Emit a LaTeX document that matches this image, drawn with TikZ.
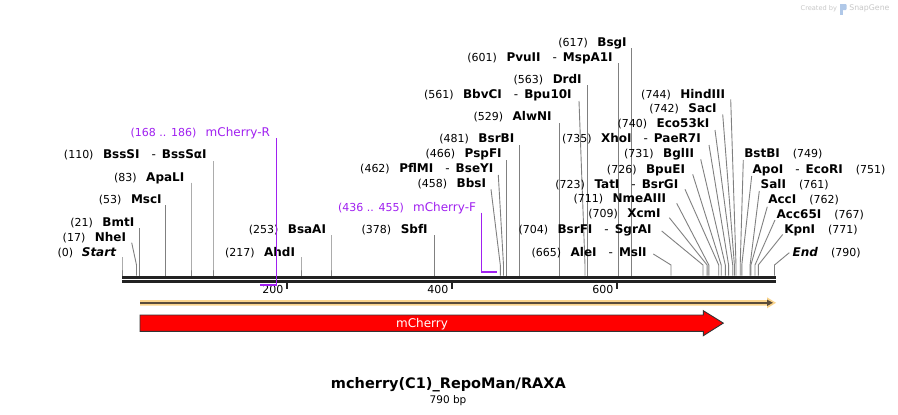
\documentclass[tikz,border=0pt]{standalone}
\usepackage{fontspec}
\setmainfont{DejaVu Sans}
\usetikzlibrary{arrows.meta}
\definecolor{linegray}{RGB}{128,128,128}
\definecolor{primer}{RGB}{160,32,240}
\definecolor{featorange}{RGB}{250,212,140}
\definecolor{featdark}{RGB}{90,76,58}
\definecolor{backbone}{RGB}{34,34,34}
\definecolor{arrowedge}{RGB}{51,51,51}
\definecolor{wmgray}{RGB}{200,200,200}
\definecolor{wmblue}{RGB}{176,200,232}
\newcommand\eN[1]{{\fontsize{11}{13}\selectfont(#1)}}
\newcommand\eE[1]{{\fontsize{12}{14}\selectfont\bfseries #1}}
\newcommand\eD{\hspace{12pt}{\fontsize{12}{14}\selectfont-}\hspace{6pt}}
\newcommand\SiteLabel[8]{%
  \node[lbl,anchor=#2] (#1) at (#3,#4) {#5};
  \coordinate (#1a) at (#6,#7);
  \coordinate (#1b) at (#8,265);
  \coordinate (#1s) at (#8,275.7);
  \draw[conn] (#1a) -- (#1b) -- (#1s);
}
\begin{document}
\begin{tikzpicture}[x=1pt,y=-1pt,
  lbl/.style={inner sep=0pt,outer sep=0pt},
  conn/.style={draw=linegray,line width=0.9pt},
  tickline/.style={draw=backbone,line width=2pt},
  ticklbl/.style={lbl,anchor=base east,font=\fontsize{11}{13}\selectfont}]
\useasboundingbox (0,0) rectangle (898,415);
\fill[white] (0,0) rectangle (898,415);

% watermark
\node[lbl,anchor=base west,text=wmgray] (wm1) at (800.7,10.5) {\fontsize{6.6}{8}\selectfont Created by};
\fill[wmblue,rounded corners=1pt] (840,4) rectangle (846.7,10);
\fill[wmblue] (840,4) rectangle (843,15);
\node[lbl,anchor=base west,text=wmgray] (wm2) at (849.3,10.5) {\fontsize{7.8}{9}\selectfont SnapGene};

% enzyme sites, left-side labels
\SiteLabel{start}{base east}{116}{256}{\eN{0}\hspace{8.7pt}\eE{\itshape Start}}{122}{257}{122}
\SiteLabel{nhe}{base east}{126}{241.5}{\eN{17}\hspace{9.5pt}\eE{NheI}}{131.7}{242.7}{136.5}
\SiteLabel{bmt}{base east}{134.3}{226}{\eN{21}\hspace{9.5pt}\eE{BmtI}}{139.3}{228.3}{139.3}
\SiteLabel{msc}{base east}{161.7}{203}{\eN{53}\hspace{9.5pt}\eE{MscI}}{165.7}{205}{165.7}
\SiteLabel{apa}{base east}{184.3}{181}{\eN{83}\hspace{9.5pt}\eE{ApaLI}}{191}{182.7}{191}
\SiteLabel{bss}{base east}{206.7}{158.5}{\eN{110}\hspace{9.5pt}\eE{BssSI}\eD\eE{BssSαI}}{213}{161}{213}
\SiteLabel{ahd}{base east}{295}{256}{\eN{217}\hspace{9.5pt}\eE{AhdI}}{301}{257}{301}
\SiteLabel{bsaa}{base east}{326}{233}{\eN{253}\hspace{9.5pt}\eE{BsaAI}}{331}{235}{331}
\SiteLabel{sbf}{base east}{427.7}{233}{\eN{378}\hspace{9.5pt}\eE{SbfI}}{434.3}{235}{434.3}
\SiteLabel{bbs}{base east}{486}{187.5}{\eN{458}\hspace{9.5pt}\eE{BbsI}}{491}{189.3}{500.3}
\SiteLabel{pfl}{base east}{493.3}{172.5}{\eN{462}\hspace{9.5pt}\eE{PflMI}\eD\eE{BseYI}}{498.3}{175}{503.5}
\SiteLabel{psp}{base east}{501.7}{157.5}{\eN{466}\hspace{9.5pt}\eE{PspFI}}{506.7}{160}{506.7}
\SiteLabel{bsrb}{base east}{514.3}{142.5}{\eN{481}\hspace{9.5pt}\eE{BsrBI}}{519.3}{145}{519.3}
\SiteLabel{alw}{base east}{551.7}{120.7}{\eN{529}\hspace{9.5pt}\eE{AlwNI}}{559.3}{123.3}{559.3}
\SiteLabel{bbv}{base east}{571.7}{98}{\eN{561}\hspace{9.5pt}\eE{BbvCI}\eD\eE{Bpu10I}}{579}{101}{585}
\SiteLabel{drd}{base east}{581.7}{83}{\eN{563}\hspace{9.5pt}\eE{DrdI}}{587.3}{85}{587.3}
\SiteLabel{pvu}{base east}{612.7}{61}{\eN{601}\hspace{9.5pt}\eE{PvuII}\eD\eE{MspA1I}}{618.3}{63.3}{618.3}
\SiteLabel{bsg}{base east}{626.7}{46.5}{\eN{617}\hspace{9.5pt}\eE{BsgI}}{631.2}{48.3}{631.2}
\SiteLabel{ale}{base east}{646.7}{256}{\eN{665}\hspace{9.5pt}\eE{AleI}\eD\eE{MslI}}{653.3}{254}{671}
\SiteLabel{bsrf}{base east}{651.7}{233}{\eN{704}\hspace{9.5pt}\eE{BsrFI}\eD\eE{SgrAI}}{661.7}{231}{703}
\SiteLabel{xcm}{base east}{660.7}{217.5}{\eN{709}\hspace{9.5pt}\eE{XcmI}}{669.3}{217.7}{707.1}
\SiteLabel{nme}{base east}{666}{202.5}{\eN{711}\hspace{9.5pt}\eE{NmeAIII}}{676.7}{203.3}{708.8}
\SiteLabel{tat}{base east}{678.3}{188}{\eN{723}\hspace{9.5pt}\eE{TatI}\eD\eE{BsrGI}}{685}{189.3}{718.7}
\SiteLabel{bpue}{base east}{685}{173}{\eN{726}\hspace{9.5pt}\eE{BpuEI}}{692.7}{174.3}{721.2}
\SiteLabel{bgl}{base east}{694}{157.5}{\eN{731}\hspace{9.5pt}\eE{BglII}}{700.7}{159.3}{725.3}
\SiteLabel{xho}{base east}{700.7}{142.5}{\eN{735}\hspace{9.5pt}\eE{XhoI}\eD\eE{PaeR7I}}{709}{145}{728.6}
\SiteLabel{ecok}{base east}{709.3}{127.5}{\eN{740}\hspace{9.5pt}\eE{Eco53kI}}{715}{130}{732.7}
\SiteLabel{sac}{base east}{716.7}{112.5}{\eN{742}\hspace{9.5pt}\eE{SacI}}{722.7}{114.3}{734.4}
\SiteLabel{hind}{base east}{725}{98}{\eN{744}\hspace{9.5pt}\eE{HindIII}}{730.7}{99.3}{736}
% right-side labels
\SiteLabel{bstb}{base west}{744.3}{157.5}{\eE{BstBI}\hspace{13pt}\eN{749}}{743.3}{160}{740.2}
\SiteLabel{apo}{base west}{752.7}{173}{\eE{ApoI}\eD\eE{EcoRI}\hspace{13pt}\eN{751}}{751.7}{176}{741.8}
\SiteLabel{sal}{base west}{760.7}{188}{\eE{SalI}\hspace{13pt}\eN{761}}{759.3}{191}{750.1}
\SiteLabel{acc}{base west}{768.3}{203}{\eE{AccI}\hspace{13pt}\eN{762}}{767.3}{206.7}{750.9}
\SiteLabel{accsf}{base west}{776.7}{218}{\eE{Acc65I}\hspace{13pt}\eN{767}}{775}{220}{755}
\SiteLabel{kpn}{base west}{784.3}{233}{\eE{KpnI}\hspace{13pt}\eN{771}}{782.7}{234.5}{758.3}
\SiteLabel{endl}{base west}{792.7}{256}{\eE{\itshape End}\hspace{13pt}\eN{790}}{789.3}{252.7}{774.5}

% backbone
\draw[backbone,line width=3pt] (122,277.2) -- (776,277.2);
\draw[backbone,line width=2.7pt] (122,281.7) -- (776,281.7);

% ticks
\draw[tickline] (287.1,282) -- (287.1,289);
\draw[tickline] (452.1,282) -- (452.1,289);
\draw[tickline] (617.2,282) -- (617.2,289);
\node[ticklbl] (t200) at (283.3,293.5) {200};
\node[ticklbl] (t400) at (448.3,293.5) {400};
\node[ticklbl] (t600) at (613.4,293.5) {600};

% primers
\node[lbl,anchor=base east,text=primer] (mchR) at (270,136.5) {{\fontsize{11}{13}\selectfont(168 .. 186)}\hspace{9.3pt}{\fontsize{12}{14}\selectfont mCherry-R}};
\coordinate (mchRtop) at (276.7,138.3);
\coordinate (mchRbot) at (276.7,285.3);
\coordinate (mchRend) at (260,285.3);
\draw[primer,line width=1.3pt] (mchRtop) -- (mchRbot);
\draw[primer,line width=2.3pt] ([xshift=0.65pt]mchRbot) -- (mchRend);

\node[lbl,anchor=base east,text=primer] (mchF) at (476,211.5) {{\fontsize{11}{13}\selectfont(436 .. 455)}\hspace{9.3pt}{\fontsize{12}{14}\selectfont mCherry-F}};
\coordinate (mchFtop) at (481.7,212.7);
\coordinate (mchFbot) at (481.7,272.3);
\coordinate (mchFend) at (496.7,272.3);
\draw[primer,line width=1.3pt] (mchFtop) -- (mchFbot);
\draw[primer,line width=2.3pt] ([xshift=-0.65pt]mchFbot) -- (mchFend);

% orange feature
\fill[featorange] (140,300) -- (767,300) -- (767,297.3) -- (776,302.8) -- (767,308.3) -- (767,305.7) -- (140,305.7) -- cycle;
\draw[featdark,line width=1.6pt,-{Triangle[length=6pt,width=6pt]}] (140,302.8) -- (773,302.8);

% mCherry feature
\filldraw[fill=red,draw=arrowedge,line width=0.9pt] (140,315) -- (703.3,315) -- (703.3,310.7) -- (723.3,323.1) -- (703.3,335.7) -- (703.3,331.3) -- (140,331.3) -- cycle;
\node[lbl,anchor=base,text=white] (mchLabel) at (422,327.5) {\fontsize{12}{14}\selectfont mCherry};

% title
\node[lbl,anchor=base] (title) at (448.4,388.5) {\fontsize{14.5}{17}\selectfont\bfseries mcherry(C1)\_RepoMan/RAXA};
\node[lbl,anchor=base] (size) at (448,403) {\fontsize{10.5}{12}\selectfont 790 bp};
\end{tikzpicture}
\end{document}
